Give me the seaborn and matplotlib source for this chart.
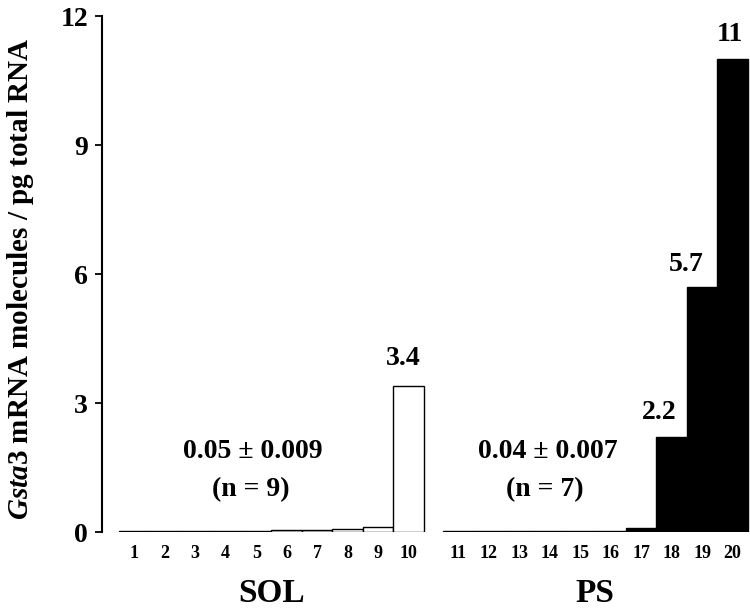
import matplotlib
matplotlib.use("Agg")
import matplotlib.pyplot as plt
import matplotlib.transforms as mtransforms
import seaborn as sns
import numpy as np
import pandas as pd

# subject ids and transcript levels
sol_ids = [str(i) for i in range(1, 11)]
sol_vals = [0.03, 0.03, 0.03, 0.03, 0.03, 0.04, 0.04, 0.08, 0.11, 3.4]
ps_ids = [str(i) for i in range(11, 21)]
ps_vals = [0.02, 0.02, 0.02, 0.03, 0.03, 0.03, 0.1, 2.2, 5.7, 11.0]

groups = ["SOL", "PS"]
group_stats = ["0.05 \u00b1 0.009", "0.04 \u00b1 0.007"]
group_n = ["(n = 9)", "(n = 7)"]

# labels written above the high bars: (group, index in group, text)
value_labels = [("SOL", 9, "3.4"), ("PS", 7, "2.2"), ("PS", 8, "5.7"), ("PS", 9, "11")]

gap = 0.62
sol_pos = np.arange(len(sol_vals))
ps_pos = np.arange(len(ps_vals)) + len(sol_vals) + gap
df = pd.DataFrame({
    "pos": np.concatenate([sol_pos, ps_pos]),
    "value": sol_vals + ps_vals,
    "group": ["SOL"] * len(sol_vals) + ["PS"] * len(ps_vals),
})

sns.set_style("white")
plt.rcParams["font.family"] = ["Liberation Serif", "DejaVu Serif"]
plt.rcParams["font.weight"] = "bold"
plt.rcParams["mathtext.fontset"] = "custom"
plt.rcParams["mathtext.rm"] = "Liberation Serif:bold"
plt.rcParams["mathtext.it"] = "Liberation Serif:italic:bold"
for key in ["text.color", "axes.labelcolor", "xtick.color", "ytick.color", "axes.edgecolor"]:
    plt.rcParams[key] = "black"

fig = plt.figure(figsize=(7.5, 6.09), dpi=100)
ax = fig.add_axes([0.136, 0.1264, 0.864, 0.8473])

sns.barplot(data=df, x="pos", y="value", hue="group", native_scale=True,
            palette={"SOL": "white", "PS": "black"}, dodge=False, width=1,
            edgecolor="black", linewidth=1.0, legend=False, ax=ax)

ax.set_xlim(-1.057, 20.19)
ax.set_ylim(0, 12)
ax.set_yticks([0, 3, 6, 9, 12])
ax.set_yticklabels(["0", "3", "6", "9", "12"], fontsize=20, fontweight="bold")
ax.set_xticks(df["pos"])
ax.set_xticklabels(sol_ids + ps_ids, fontsize=13, fontweight="bold")
ax.tick_params(axis="x", length=0, pad=9)
ax.tick_params(axis="y", direction="out", length=5, width=1.3, pad=5, left=True)
for s in ["top", "right", "bottom"]:
    ax.spines[s].set_visible(False)
ax.spines["left"].set_linewidth(1.5)
ax.set_xlabel("")
ax.set_ylabel(r"$\mathit{Gsta3}$ mRNA molecules / pg total RNA", fontsize=21,
              fontweight="bold")
ax.yaxis.set_label_coords(-0.102, 0.49)

# values above the tall bars
offsets = {"3.4": (-4, 15), "2.2": (-9, 13.5), "5.7": (-11.5, 11.5), "11": (-2, 13)}
for grp, idx, txt in value_labels:
    pos = sol_pos if grp == "SOL" else ps_pos
    vals = sol_vals if grp == "SOL" else ps_vals
    ax.annotate(txt, xy=(pos[idx], vals[idx]), xytext=offsets[txt],
                textcoords="offset points", ha="center", va="baseline",
                fontsize=20, fontweight="bold")

# group summaries and group names
stat_x = [3.89, 13.55]
trans = mtransforms.blended_transform_factory(ax.transData, ax.transAxes)
for i, (g, pos) in enumerate(zip(groups, [sol_pos, ps_pos])):
    ax.text(stat_x[i], 1.88, group_stats[i], ha="center", va="center",
            fontsize=20, fontweight="bold")
    ax.text(stat_x[i] - 0.08, 0.98, group_n[i], ha="center", va="center",
            fontsize=20, fontweight="bold")
    ax.text(pos.mean(), -0.12, g, transform=trans, ha="center", va="center",
            fontsize=24, fontweight="bold", clip_on=False)

fig.savefig("out.png", dpi=100)
